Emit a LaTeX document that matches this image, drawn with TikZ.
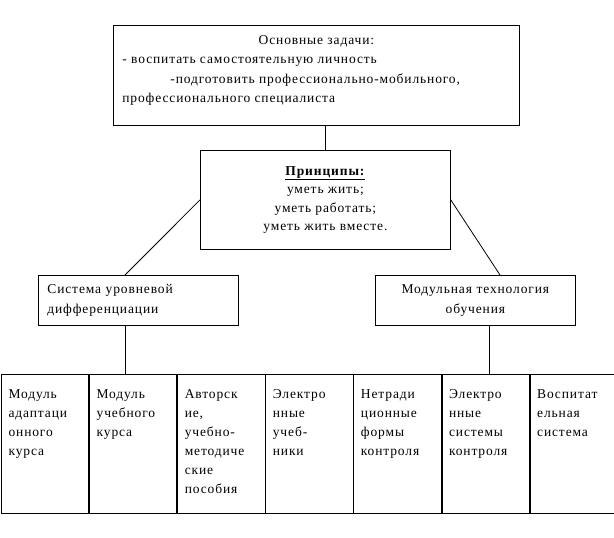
\documentclass[tikz,border=0pt]{standalone}
\usepackage{fontspec}
\setmainfont[LetterSpace=6.5]{Liberation Serif}
\usepackage{tikz}
\usetikzlibrary{positioning, calc}

\begin{document}
\begin{tikzpicture}[
    x=1pt, y=-1pt,
    every node/.style={font=\fontsize{13.5}{19.5}\selectfont},
    goalbox/.style={draw, line width=0.8pt, anchor=north west, minimum width=406pt, minimum height=100pt, inner sep=0pt},
    principle/.style={draw, line width=0.8pt, anchor=north west, minimum width=250pt, minimum height=99pt, align=center, font=\fontsize{13.5}{18.5}\selectfont},
    branch/.style={draw, line width=0.8pt, anchor=north west, minimum width=200pt, minimum height=50pt, inner sep=0pt, text width=182pt},
    cell/.style={draw, line width=0.8pt, anchor=north west, minimum width=87.3pt, minimum height=139pt, inner sep=0pt, font=\fontsize{13.5}{19}\selectfont},
    link/.style={line width=0.8pt}
]
\useasboundingbox (0,0) rectangle (614,538);

\node[goalbox] (goal) at (113,25) {\parbox[t][80pt][t]{388pt}{\centering Основные задачи:\par
    \raggedright - воспитать самостоятельную личность\\
    \hspace*{48pt}-подготовить профессионально-мобильного,\\
    профессионального специалиста}};
\node[principle] (princ) at (200,150) {\underline{\textbf{Принципы:}}\\уметь жить;\\уметь работать;\\уметь жить вместе.};
\node[branch, align=left] (sys) at (38,275) {Система уровневой\\дифференциации};
\node[branch, align=center] (mod) at (375,275) {Модульная технология\\обучения};

% bottom row
\node[cell] (c1) at (1,374) {\parbox[t][109pt][t]{73pt}{\raggedright Модуль\\адаптаци\\онного\\курса}};
\node[cell, right=0pt of c1] (c2) {\parbox[t][109pt][t]{73pt}{\raggedright Модуль\\учебного\\курса}};
\node[cell, right=0pt of c2] (c3) {\parbox[t][109pt][t]{73pt}{\raggedright Авторск\\ие,\\учебно-\\методиче\\ские\\пособия}};
\node[cell, right=0pt of c3] (c4) {\parbox[t][109pt][t]{73pt}{\raggedright Электро\\нные\\учеб-\\ники}};
\node[cell, right=0pt of c4] (c5) {\parbox[t][109pt][t]{73pt}{\raggedright Нетради\\ционные\\формы\\контроля}};
\node[cell, right=0pt of c5] (c6) {\parbox[t][109pt][t]{73pt}{\raggedright Электро\\нные\\системы\\контроля}};
\node[cell, right=0pt of c6] (c7) {\parbox[t][109pt][t]{73pt}{\raggedright Воспитат\\ельная\\система}};

\coordinate (lfoot) at (125,0);
\coordinate (rfoot) at (489,0);

\draw[link] (goal.south -| princ.north) -- (princ.north);
\draw[link] (princ.west) -- (sys.north -| lfoot);
\draw[link] (princ.east) -- ($(mod.north -| rfoot)+(11,0)$);
\draw[link] (sys.south -| lfoot) -- (c2.north -| lfoot);
\draw[link] (mod.south -| rfoot) -- (c6.north -| rfoot);

\end{tikzpicture}
\end{document}
